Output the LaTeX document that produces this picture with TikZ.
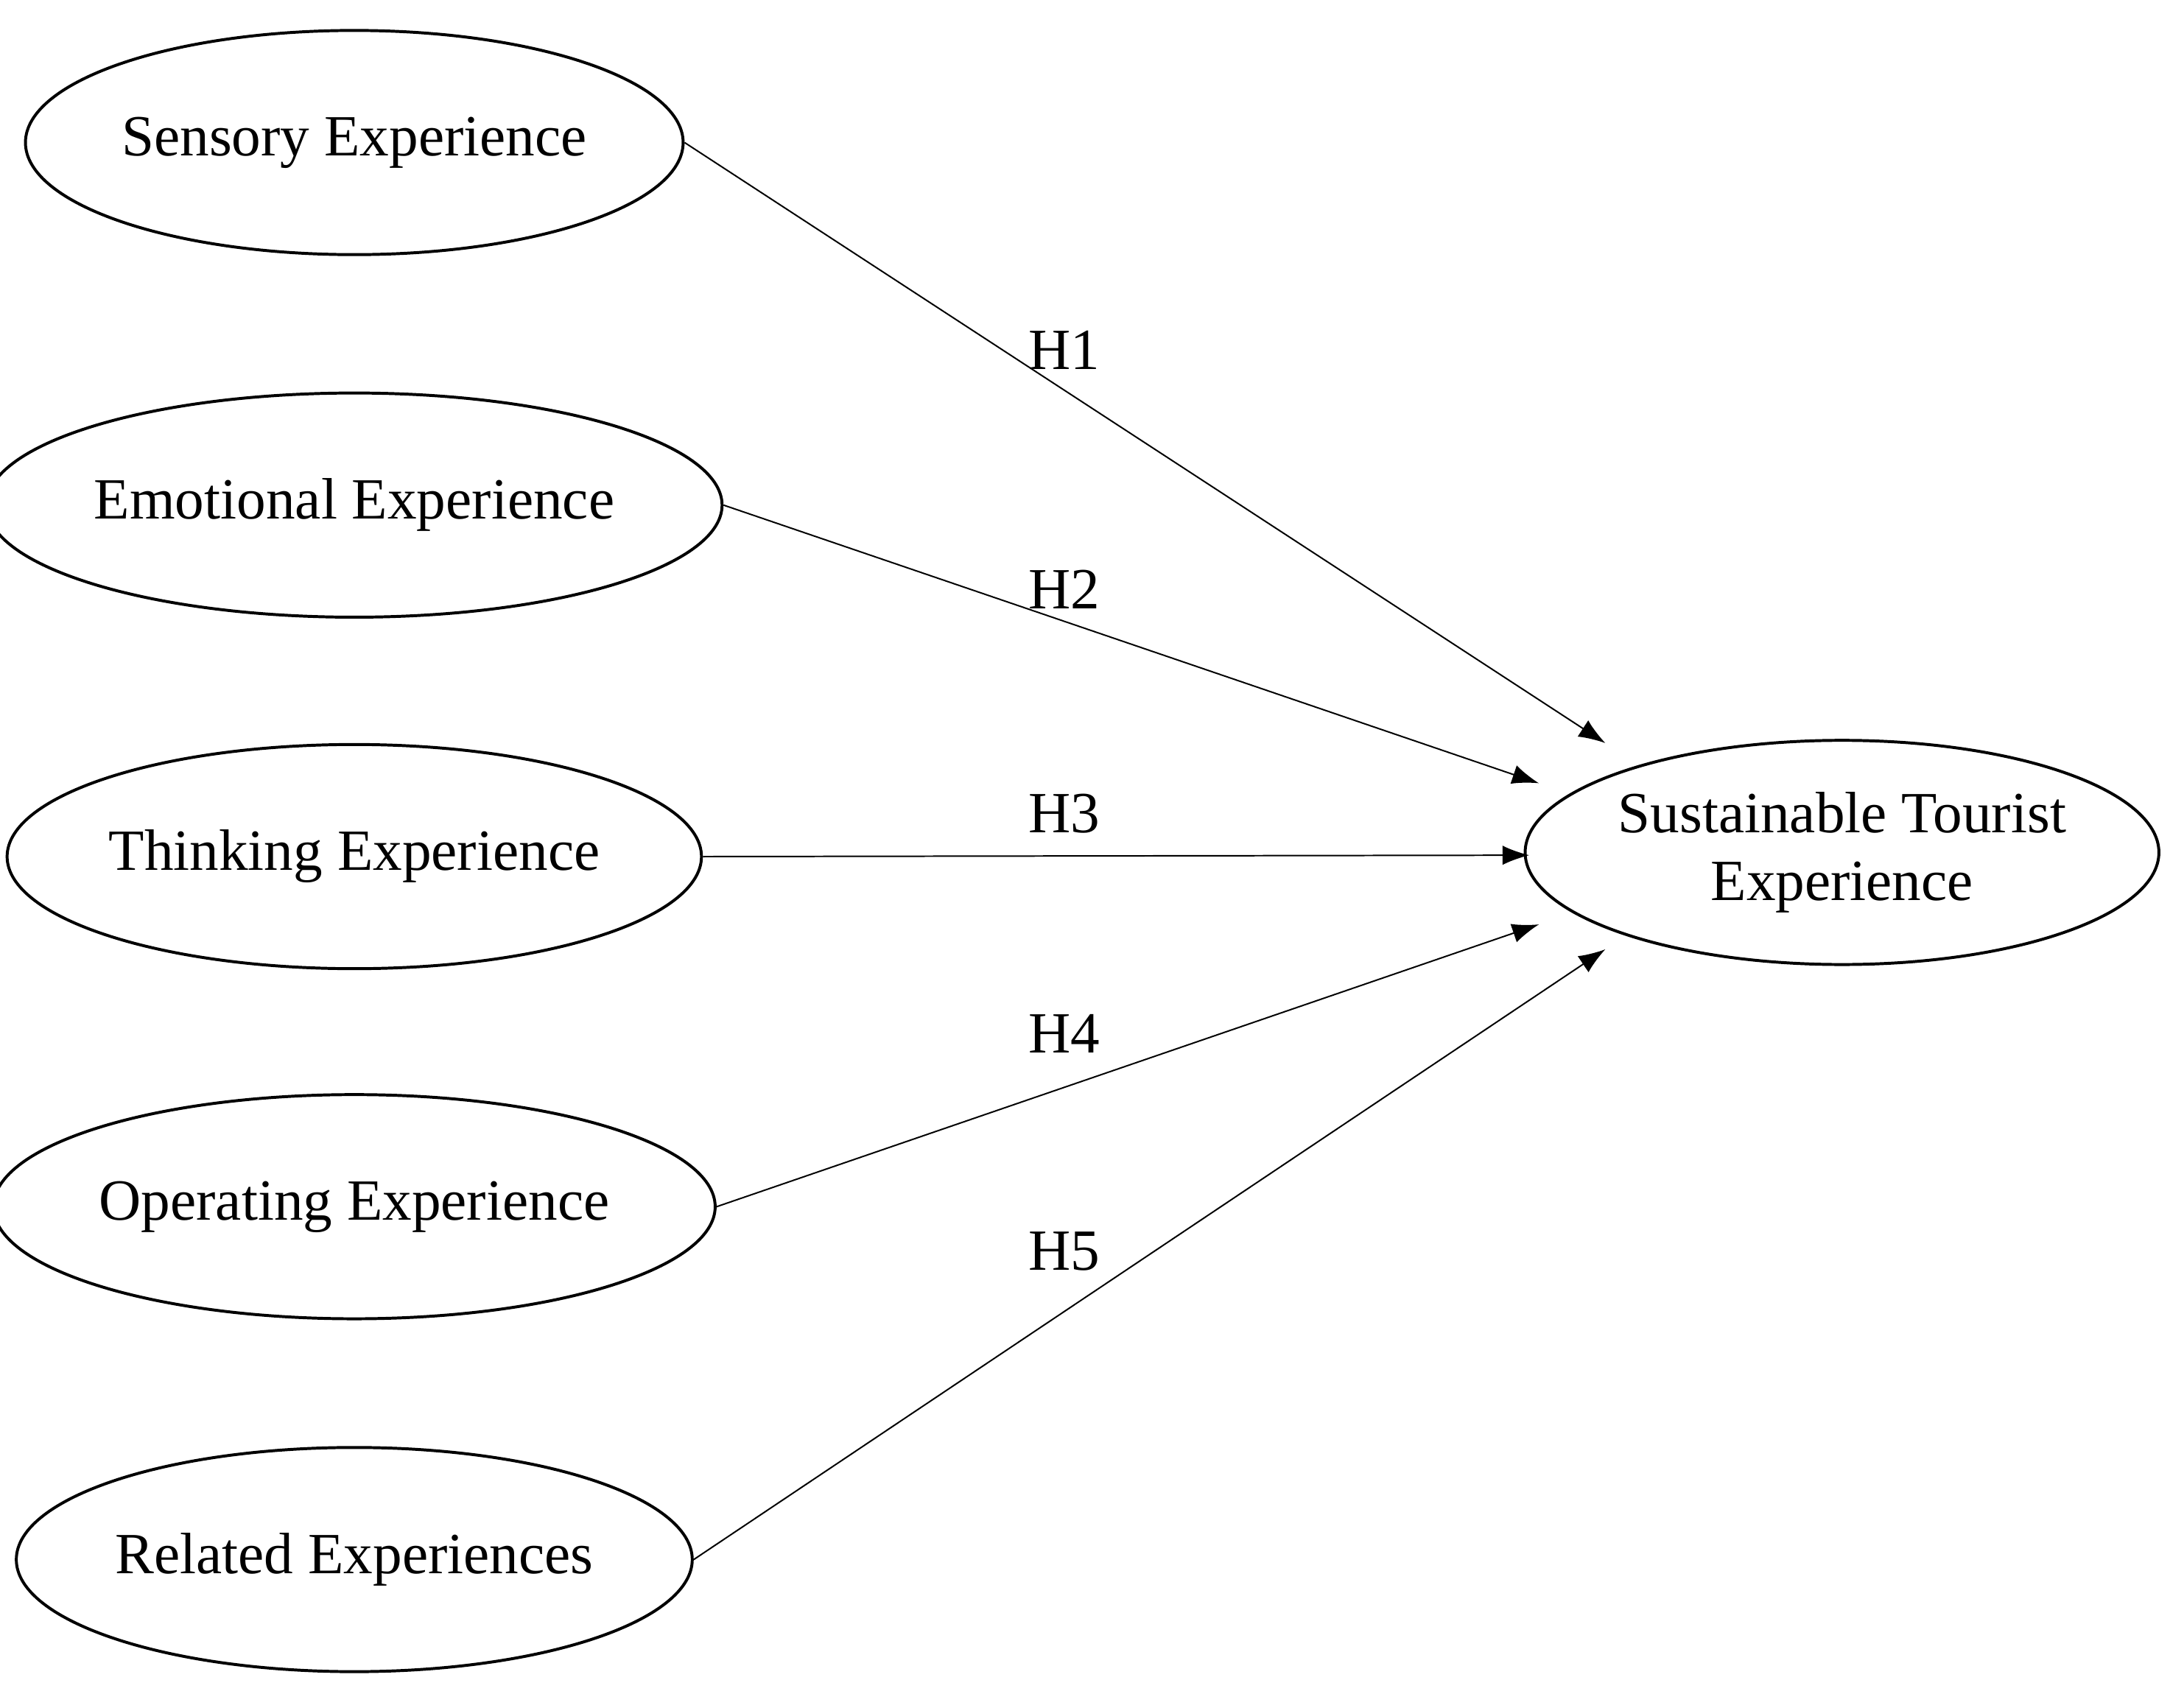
\documentclass[tikz,border=0pt]{standalone}
\usepackage{fontspec}
\setmainfont{Liberation Serif}
\usetikzlibrary{shapes.geometric,arrows.meta}
\begin{document}
\begin{tikzpicture}[x=0.02cm,y=-0.02cm,
  ell/.style={ellipse,draw,line width=1.2pt,minimum width=447*0.02cm,minimum height=162*0.02cm,inner sep=0pt,font=\fontsize{24}{28}\selectfont,align=center},
  arr/.style={line width=0.6pt,-{Latex[length=11pt,width=8pt]}},
  lab/.style={font=\fontsize{24}{28}\selectfont}]
\useasboundingbox (0,0) rectangle (1568,1234);
\node[ell] (s1) at (256,103) {Sensory Experience};
\node[ell] (s2) at (256,365) {Emotional Experience};
\node[ell] (s3) at (256,619) {Thinking Experience};
\node[ell] (s4) at (256,872) {Operating Experience};
\node[ell] (s5) at (256,1127) {Related Experiences};
\node[ell,minimum width=449*0.02cm] (t) at (1331,616) {Sustainable Tourist\\Experience};
\coordinate (e1) at (1160,537);
\coordinate (e2) at (1112,566);
\coordinate (e3) at (1105,618);
\coordinate (e4) at (1112,668);
\coordinate (e5) at (1160,686);
\draw[arr] (s1.east) -- (e1);
\draw[arr] (s2.east) -- (e2);
\draw[arr] (s3.east) -- (e3);
\draw[arr] (s4.east) -- (e4);
\draw[arr] (s5.east) -- (e5);
\node[lab] (h1) at (769,253) {H1};
\node[lab] (h2) at (769,426) {H2};
\node[lab] (h3) at (769,588) {H3};
\node[lab] (h4) at (769,747) {H4};
\node[lab] (h5) at (769,904) {H5};
\end{tikzpicture}
\end{document}
